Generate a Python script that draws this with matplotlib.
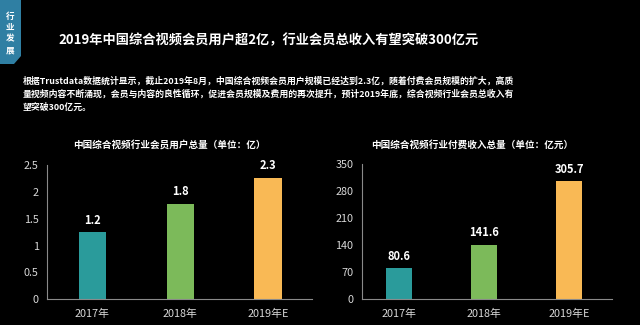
import matplotlib
matplotlib.use("Agg")
import matplotlib.pyplot as plt
from matplotlib.patches import Polygon

plt.rcParams['font.family'] = ['Noto Sans CJK SC', 'DejaVu Sans']

categories = ["2017年", "2018年", "2019年E"]
users_values = [1.25, 1.78, 2.26]
users_labels = ["1.2", "1.8", "2.3"]
revenue_values = [80.6, 141.6, 305.7]
revenue_labels = ["80.6", "141.6", "305.7"]
users_ticks = [0, 0.5, 1, 1.5, 2, 2.5]
users_ticklabels = ["0", "0.5", "1", "1.5", "2", "2.5"]
revenue_ticks = [0, 70, 140, 210, 280, 350]
colors = ["#2a9b9b", "#7cba5a", "#f9b955"]

title = "2019年中国综合视频会员用户超2亿，行业会员总收入有望突破300亿元"
para_lines = [
    "根据Trustdata数据统计显示，截止2019年8月，中国综合视频会员用户规模已经达到2.3亿，随着付费会员规模的扩大，高质",
    "量视频内容不断涌现，会员与内容的良性循环，促进会员规模及费用的再次提升，预计2019年底，综合视频行业会员总收入有",
    "望突破300亿元。",
]
left_title = "中国综合视频行业会员用户总量（单位：亿）"
right_title = "中国综合视频行业付费收入总量（单位：亿元）"

W, H = 640, 325
fig = plt.figure(figsize=(6.4, 3.25), dpi=100, facecolor="black")

def fx(px):
    return px / W

def fy(py):
    return 1 - py / H

# sidebar tab
poly = Polygon([(fx(0), fy(0)), (fx(21), fy(0)), (fx(21), fy(56)),
                (fx(14), fy(64)), (fx(0), fy(64))],
               closed=True, transform=fig.transFigure, facecolor="#2f7fa3",
               edgecolor="none")
fig.patches.append(poly)
for i, ch in enumerate("行业发展"):
    fig.text(fx(10), fy(16 + i * 11.5), ch, color="white", fontsize=6.2,
             fontweight="bold", ha="center", va="center")

fig.text(fx(268.5), fy(40), title, color="white", fontsize=9.5,
         fontweight="bold", ha="center", va="center")
for i, line in enumerate(para_lines):
    fig.text(fx(23), fy(81 + i * 13), line, color="white", fontsize=6.4,
             fontweight="bold", ha="left", va="center")

def make_axes(rect, values, labels, ticks, ticklabels, ylim, xlim, subtitle, sub_x):
    ax = fig.add_axes(rect)
    ax.set_facecolor("black")
    x = list(range(len(categories)))
    bars = ax.bar(x, values, width=0.31, color=colors)
    for b, lab in zip(bars, labels):
        ax.annotate(lab, (b.get_x() + b.get_width() / 2, b.get_height()),
                    xytext=(0, 4), textcoords="offset points", ha="center",
                    va="bottom", color="white", fontsize=8, fontweight="bold")
    ax.set_ylim(*ylim)
    ax.set_xlim(*xlim)
    ax.set_yticks(ticks)
    ax.set_yticklabels(ticklabels)
    ax.set_xticks(x)
    ax.set_xticklabels(categories)
    ax.tick_params(length=0, colors="#d8d8d8", labelsize=7.8)
    ax.tick_params(axis="x", pad=7)
    ax.tick_params(axis="y", pad=6)
    for s in ("top", "right"):
        ax.spines[s].set_visible(False)
    for s in ("left", "bottom"):
        ax.spines[s].set_color("#8a8a8a")
        ax.spines[s].set_linewidth(0.8)
    fig.text(fx(sub_x), fy(145), subtitle, color="white", fontsize=6.9,
             fontweight="bold", ha="center", va="center")
    return ax

make_axes([fx(47), 25.7 / H, 265 / W, 134.3 / H], users_values, users_labels,
          users_ticks, users_ticklabels, (0, 2.5), (-0.517, 2.5), left_title, 169)
make_axes([fx(361.7), 25.7 / H, 250 / W, 135 / H], revenue_values, revenue_labels,
          revenue_ticks, [str(t) for t in revenue_ticks], (0, 350), (-0.435, 2.5),
          right_title, 472)

fig.savefig("out.png", dpi=100, facecolor="black")
